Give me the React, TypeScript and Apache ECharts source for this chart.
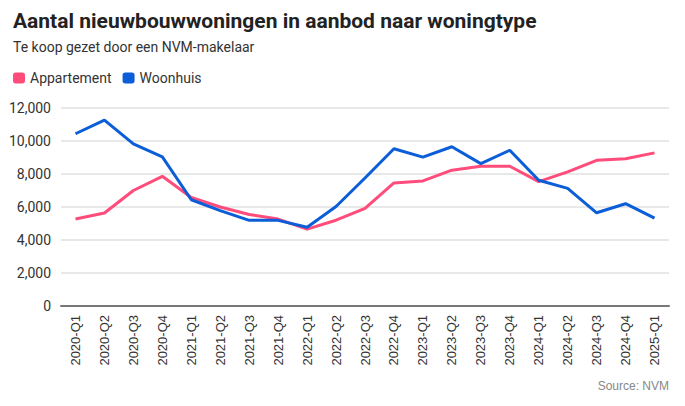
import React, { useEffect, useRef } from 'react'
import * as echarts from 'echarts'

const categories = [
  '2020-Q1', '2020-Q2', '2020-Q3', '2020-Q4',
  '2021-Q1', '2021-Q2', '2021-Q3', '2021-Q4',
  '2022-Q1', '2022-Q2', '2022-Q3', '2022-Q4',
  '2023-Q1', '2023-Q2', '2023-Q3', '2023-Q4',
  '2024-Q1', '2024-Q2', '2024-Q3', '2024-Q4',
  '2025-Q1',
]

const appartement = [
  5270, 5640, 7000, 7860, 6580, 6000, 5550, 5270, 4660, 5200, 5920,
  7460, 7580, 8230, 8470, 8470, 7540, 8130, 8830, 8920, 9280,
]

const woonhuis = [
  10440, 11270, 9830, 9040, 6440, 5780, 5190, 5190, 4770, 6030, 7760,
  9530, 9020, 9650, 8630, 9440, 7620, 7130, 5650, 6200, 5330,
]

const yTicks = { min: 0, max: 12000, interval: 2000 }

const PINK = '#ff4c7b'
const BLUE = '#0b5ed7'

function App() {
  const chartRef = useRef<HTMLDivElement>(null)

  useEffect(() => {
    document.body.style.margin = '0'
    const chart = echarts.init(chartRef.current as HTMLDivElement, undefined, { renderer: 'svg' })
    chart.setOption({
      animation: false,
      title: [
        {
          text: 'Aantal nieuwbouwwoningen in aanbod naar woningtype',
          left: 8,
          top: 5,
          textStyle: { fontFamily: 'Roboto', fontSize: 21, fontWeight: 'bold', color: '#222' },
        },
        {
          text: 'Te koop gezet door een NVM-makelaar',
          left: 8,
          top: 35,
          textStyle: { fontFamily: 'Roboto', fontSize: 14, fontWeight: 'normal', color: '#333' },
        },
      ],
      legend: {
        left: 8,
        top: 66,
        icon: 'roundRect',
        itemWidth: 12,
        itemHeight: 11,
        itemGap: 11,
        textStyle: { fontFamily: 'Roboto', fontSize: 14, color: '#333' },
        data: ['Appartement', 'Woonhuis'],
      },
      grid: { left: 61, right: 16, top: 108, bottom: 100 },
      xAxis: {
        type: 'category',
        data: categories,
        axisTick: { show: false },
        axisLine: { lineStyle: { color: '#777', width: 2 } },
        axisLabel: {
          rotate: 90,
          interval: 0,
          margin: 9,
          fontFamily: 'Liberation Sans',
          fontSize: 13,
          color: '#333',
        },
      },
      yAxis: {
        type: 'value',
        ...yTicks,
        axisLine: { show: false },
        axisTick: { show: false },
        splitLine: { lineStyle: { color: '#e0e0e0', width: 1.5 } },
        axisLabel: {
          margin: 10,
          fontFamily: 'Roboto',
          fontSize: 14,
          color: '#333',
          formatter: (v: number) => v.toLocaleString('en-US'),
        },
      },
      series: [
        {
          name: 'Appartement',
          type: 'line',
          data: appartement,
          symbol: 'none',
          color: PINK,
          lineStyle: { width: 3, color: PINK },
        },
        {
          name: 'Woonhuis',
          type: 'line',
          data: woonhuis,
          symbol: 'none',
          color: BLUE,
          lineStyle: { width: 3, color: BLUE },
        },
      ],
      graphic: [
        {
          type: 'text',
          right: 16,
          top: 380,
          style: {
            text: 'Source: NVM',
            fontFamily: 'Liberation Sans',
            fontSize: 12,
            fill: '#888',
          },
        },
      ],
    })
    return () => {
      chart.dispose()
    }
  }, [])

  return <div ref={chartRef} style={{ width: 685, height: 406 }} />
}

export default App
